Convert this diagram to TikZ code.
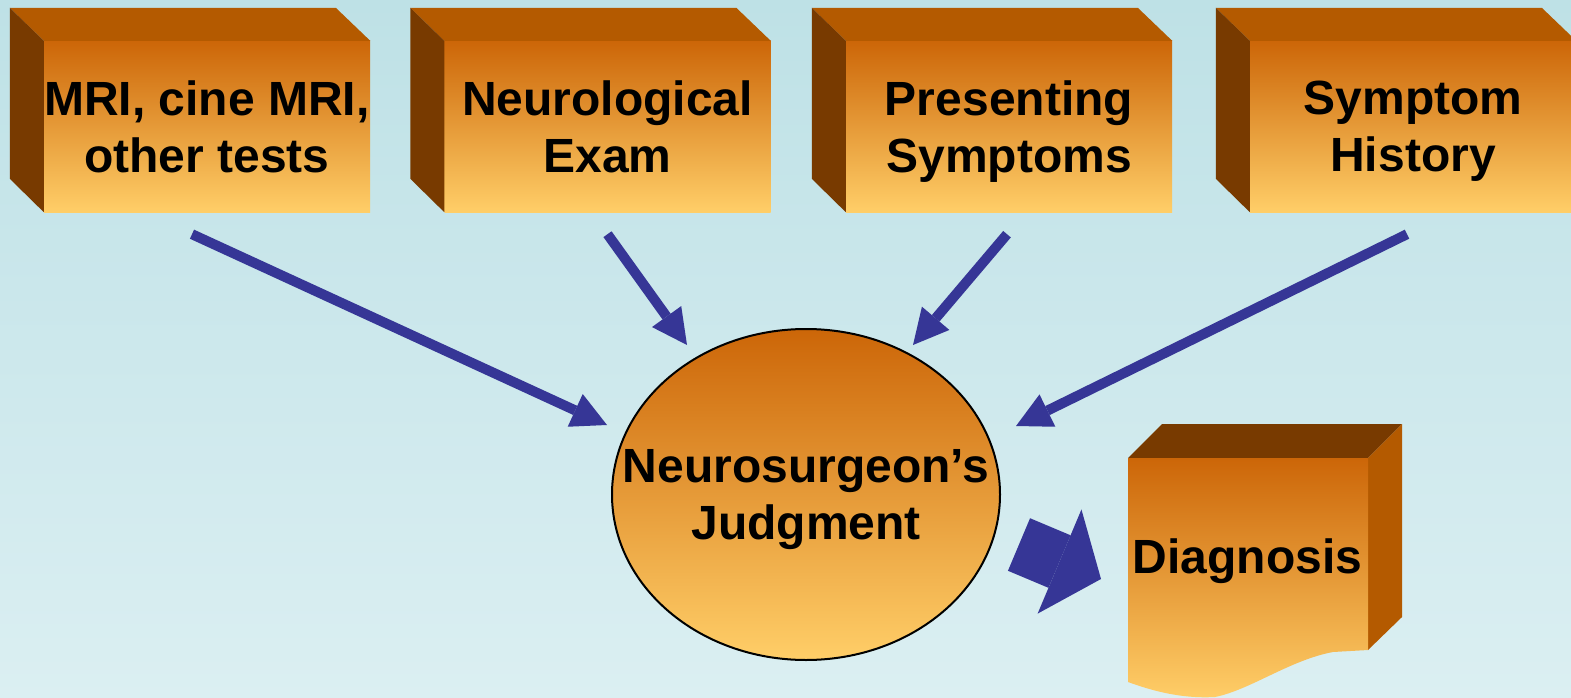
\documentclass[tikz,border=0pt]{standalone}
\usepackage{fontspec}
\setmainfont{Liberation Sans}
\usetikzlibrary{shapes.geometric,arrows.meta}
\definecolor{bgtop}{RGB}{190,225,230}
\definecolor{bgbottom}{RGB}{219,239,242}
\definecolor{orangetop}{RGB}{204,102,8}
\definecolor{orangebottom}{RGB}{255,206,104}
\definecolor{boxtop}{RGB}{180,90,0}
\definecolor{boxside}{RGB}{120,58,0}
\definecolor{arrowblue}{RGB}{54,54,150}
\newcommand{\topstrut}{\rule{0pt}{62pt}}
\newcommand{\botstrut}{\rule[-12pt]{0pt}{12pt}}
\tikzstyle{factor}=[rectangle, top color=orangetop, bottom color=orangebottom,
minimum width=326pt, minimum height=171pt, inner sep=0pt]
\tikzstyle{judgement}=[ellipse, draw=black, line width=2pt, top color=orangetop,
bottom color=orangebottom, minimum width=388pt, minimum height=331pt, inner sep=0pt]
\tikzstyle{caption}=[inner sep=0pt, align=center,
font=\bfseries\fontsize{48}{57}\selectfont]
\tikzstyle{boxcaption}=[caption, execute at begin node=\topstrut,
execute at end node=\botstrut]
\tikzstyle{link}=[draw=arrowblue, line width=10pt,
-{Triangle[length=35pt,width=36pt,line width=0pt]}]
\tikzstyle{bigarrow}=[draw=arrowblue, line width=57pt,
-{Triangle[length=45pt,width=113pt,line width=0pt]}]

\begin{document}
\begin{tikzpicture}[x=1pt,y=-1pt]
\useasboundingbox (0,0) rectangle (1571,698);
\shade[top color=bgtop, bottom color=bgbottom] (0,0) rectangle (1571,698);

% the four inputs
\node[factor](mri)at (207,126.5){};
\node[factor](neuro)at (607.5,126.5){};
\node[factor](present)at (1009,126.5){};
\node[factor](history)at (1413,126.5){};

\foreach \b in {mri,neuro,present,history}{
  \fill[boxtop] (\b.north west) -- ++(-34,-33) -- ++(326,0) -- (\b.north east) -- cycle;
  \fill[boxside] (\b.north west) -- ++(-34,-33) -- ++(0,171) -- (\b.south west) -- cycle;
}

\node[boxcaption](mritext)at (207,132.5){MRI, cine MRI,\\other tests};
\node[boxcaption](neurotext)at (607.5,132.5){Neurological\\Exam};
\node[boxcaption](presenttext)at (1009,132.5){Presenting\\Symptoms};
\node[boxcaption](historytext)at (1413,132.5){Symptom\\History};

\node[judgement](judge)at (806,494.5){};
\node[caption](judgetext)at (806,500){Neurosurgeon’s\\Judgment};

% diagnosis block
\fill[boxside] (1128,458) -- (1162,424) -- (1402,424) -- (1368,458) -- cycle;
\fill[boxtop] (1368,458) -- (1402,424) -- (1402,617) -- (1368,650) -- cycle;
\shade[top color=orangetop, bottom color=orangebottom] (1128,458) -- (1368,458)
  -- (1368,650) -- (1333,652) .. controls (1290,660) and (1250,690) .. (1215,697)
  .. controls (1180,699) and (1150,690) .. (1128,682) -- cycle;
\node[caption, anchor=base](diag)at (1247.5,573){Diagnosis};

\coordinate (t1) at (607,425);
\coordinate (t2) at (687,345);
\coordinate (t3) at (913,345);
\coordinate (t4) at (1016,426);

\draw[link] ([xshift=-15pt,yshift=-22pt]mri.south) -- (t1);
\draw[link] ([yshift=-22pt]neuro.south) -- (t2);
\draw[link] ([xshift=-2pt,yshift=-22pt]present.south) -- (t3);
\draw[link] ([xshift=-6pt,yshift=-22pt]history.south) -- (t4);

\coordinate (b0) at (1019,544.5);
\coordinate (b1) at (1101,579);
\draw[bigarrow] (b0) -- (b1);
\end{tikzpicture}
\end{document}
